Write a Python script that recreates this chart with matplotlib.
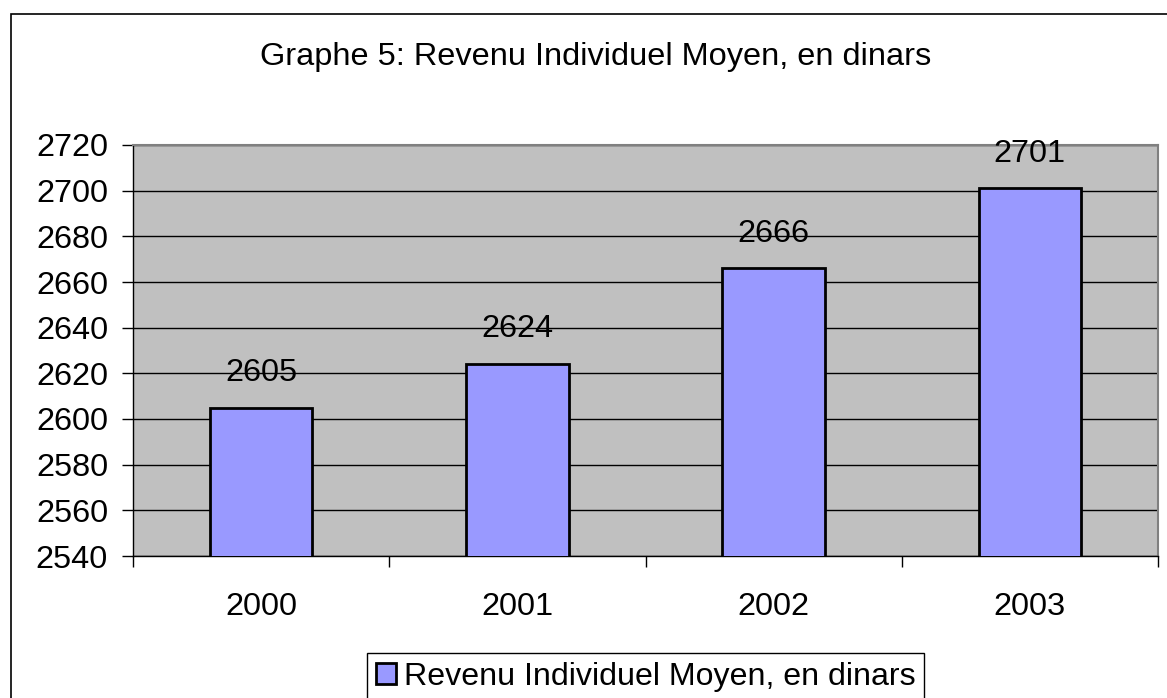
import matplotlib.pyplot as plt
from matplotlib.patches import Rectangle
import numpy as np

plt.rcParams['font.family'] = ['Liberation Sans', 'DejaVu Sans']

annees = ['2000', '2001', '2002', '2003']
revenu = [2605, 2624, 2666, 2701]
titre = 'Graphe 5: Revenu Individuel Moyen, en dinars'
serie = 'Revenu Individuel Moyen, en dinars'

W, H = 1167, 698
FS = 23.4
fig = plt.figure(figsize=(W / 100, H / 100), dpi=100)
fig.patch.set_facecolor('white')

# cadre extérieur (coupé à droite et en bas)
fig.patches.append(Rectangle((11 / W, -0.1), 1.2, 1 - 14 / H + 0.1, transform=fig.transFigure,
                             fill=False, edgecolor='black', lw=1.2, clip_on=False))

ax = fig.add_axes([133 / W, 1 - 556 / H, (1158 - 133) / W, (556 - 145) / H])
ax.set_facecolor('#C0C0C0')

x = np.arange(len(annees))
ax.set_axisbelow(True)
ax.yaxis.grid(True, color='black', lw=1)
bars = ax.bar(x, revenu, width=0.4, color='#9999FF', edgecolor='black', lw=2,
              label=serie, zorder=3)
for xi, v in zip(x, revenu):
    ax.annotate(str(v), (xi, v), xytext=(0, 25), textcoords='offset points',
                ha='center', va='center', fontsize=FS)

ax.set_xlim(-0.5, len(annees) - 0.5)
ax.set_ylim(2540, 2720)
ax.set_yticks(np.arange(2540, 2721, 20))
ax.set_xticks(x)
ax.set_xticklabels(annees)
ax.set_xticks(np.arange(-0.5, len(annees)), minor=True)
ax.tick_params(axis='x', which='major', length=0, pad=26, labelsize=FS)
ax.tick_params(axis='x', which='minor', length=8, width=1, direction='out')
ax.tick_params(axis='y', length=8, width=1, pad=10, labelsize=FS)

for s in ['left', 'bottom']:
    ax.spines[s].set_color('black')
    ax.spines[s].set_linewidth(1)
for s in ['top', 'right']:
    ax.spines[s].set_color('#808080')
    ax.spines[s].set_linewidth(1.5)

fig.text(596 / W, 1 - 57 / H, titre, ha='center', va='center', fontsize=FS)

leg = fig.legend(loc='upper center', bbox_to_anchor=(645.5 / W, 1 - 653 / H), fontsize=23.1,
                 frameon=True, fancybox=False, edgecolor='black', framealpha=1,
                 handlelength=0.62, handleheight=0.62, handletextpad=0.25, borderpad=0.28,
                 borderaxespad=0)
leg.get_frame().set_linewidth(1)

fig.savefig('out.png', dpi=100)
